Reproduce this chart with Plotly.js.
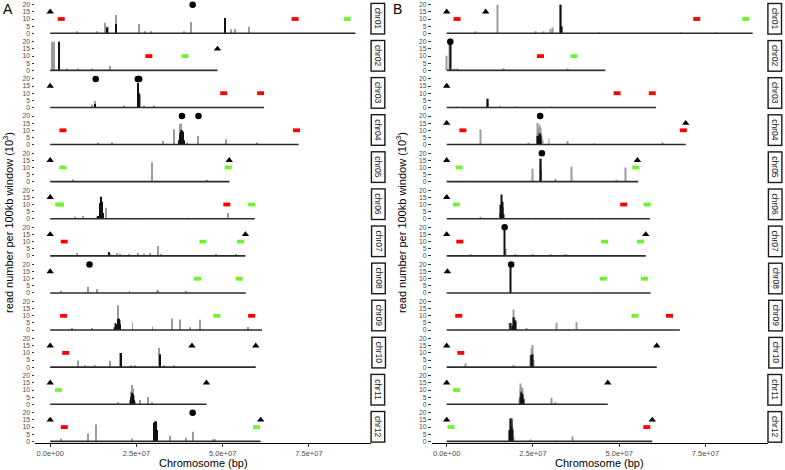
<!DOCTYPE html>
<html><head><meta charset="utf-8">
<script src="https://cdn.plot.ly/plotly-3.0.1.min.js"></script>
<style>html,body{margin:0;padding:0;background:#fff}</style>
</head><body><div id="chart" style="width:785px;height:470px"></div>
<script>
// ---------------- DATA (positions in Mb, read numbers in 10^3) ----------------
const chroms = ['chr01','chr02','chr03','chr04','chr05','chr06','chr07','chr08','chr09','chr10','chr11','chr12'];
const xTickVals = [0, 2.5e7, 5e7, 7.5e7];
const xTickText = ['0.0e+00','2.5e+07','5.0e+07','7.5e+07'];
const yTickVals = [0, 5, 10, 15, 20];

// Panel A
const lenA = [88.5, 48.5, 62.0, 72.0, 52.0, 59.3, 56.6, 56.7, 61.4, 59.6, 45.3, 61.0];
const triA = [[0],[48.5],[0],[],[0,51.9],[0],[0,56.6],[0],[],[0,41.1,59.6],[0,45.3],[0,61.0]];
const circA = [[41.3],[],[13.2,25.4,25.8],[38.2,43.0],[],[],[],[11.4],[],[],[],[41.3]];
const redA = [[3.2,71.0],[28.6],[50.3,61.0],[3.7,71.4],[],[51.2],[4.05],[],[3.9,58.4],[4.5],[],[4.1]];
const greenA = [[86.1],[39.1],[],[],[3.7,51.6],[2.5,3.0,58.4],[44.3,55.2],[42.7,54.8],[48.3],[],[2.4],[59.8]];
const greyPosA = [
  [7.9,13.7,16.0,16.4,16.8,19.1,25.8,27.6,29.4,38.9,41.0,50.7,52.5,53.6,57.7],
  [0.7,1.1,2.5,5.0,8.2,12.2,17.4],
  [12.2,12.9,25.5,26.0,21.5,27.2,30.0],
  [14.0,18.0,32.8,36.0,37.6,37.8,38.0,38.2,38.4,38.6,39.7,42.9,50.9,60.0],
  [6.7,29.6,31.0,45.5],
  [7.2,9.4,13.5,16.2,51.6,25.0,40.0],
  [7.7,17.1,17.4,19.3,20.3,23.0,25.4,27.2,28.9,31.4,32.2,48.1,54.0],
  [3.0,11.1,13.6,23.0,30.9,31.3,39.5],
  [6.4,12.3,18.6,18.9,19.3,19.7,20.0,20.3,23.9,29.7,35.4,37.7,40.7,43.5,57.3,57.5],
  [6.3,8.2,10.0,12.9,17.5,20.4,23.5,24.5,31.6,33.0,36.0],
  [19.8,26.0,28.4,29.6,23.2,23.5,23.7,23.9,24.1,24.3,24.5],
  [3.1,11.1,13.4,23.7,34.8,39.3,41.3,47.2,47.7]
];
const greyHA = [
  [1,1,7.4,4.6,4.6,12.8,6.5,1.2,1,1,7.9,10.7,2.8,3,4.6],
  [20,20,20,1,1,1,3.1],
  [2,4.5,17.2,9,1,1,0.8],
  [1,1,2.5,10.8,14.3,12,14.8,10,9,6,1.5,6,3.7,1],
  [1.5,13.5,0.5,0.8],
  [1.5,2,1.5,7.7,4,0.6,0.6],
  [2,2.5,1.5,2,1.5,1,2,1.5,2,7,1,1.5,0.8],
  [1.5,4.4,2.8,1,1,2,1],
  [1,1,2,5,4,17.4,8,7,5.3,2.5,8.1,7.4,2,7.2,2,2],
  [0.5,4.7,1,1,4.5,10,1,1,13.5,0.8,0.8],
  [1.5,3,5.1,1,3,9,13.5,11,10,6,2],
  [2,5.6,11.9,2,4,2.5,6.7,1.5,1.5]
];
const blackPosA = [
  [16.4,19.1,50.7],[2.5],[12.9,25.5,25.6],[37.4,37.6,37.8,38.0,38.2,38.4,38.6,38.8],[],
  [14.0,14.3,14.5,14.7,14.9,15.1,15.3],[17.1],[],[18.6,18.9,19.3,19.7,20.0,20.3],[20.4,31.8],
  [23.3,23.5,23.7,23.9,24.1,24.3],[30.1,30.3,30.5,30.7,30.9,31.1]
];
const blackHA = [
  [4,6.5,10.7],[20],[2.5,17.2,10],[3,8,10,9,10,9,7,3],[],
  [2,6,11,15.5,12,7,4],[2.5],[],[2,5,4,8,8,4],[10,9],
  [2,5,8,7,6,3],[13,14,12,14,8,3]
];

// Panel B
const lenB = [88.7, 46.0, 60.7, 69.3, 55.5, 58.9, 57.7, 59.1, 67.6, 60.9, 46.7, 59.6];
const triB = [[0,11.3],[],[0],[0,69.3],[0,55.3],[0],[0,57.7],[0.2],[],[0,60.9],[0,46.7],[0,59.6]];
const circB = [[],[1.05],[],[27.1],[27.6],[],[16.8],[18.7],[],[],[],[]];
const redB = [[3.0,72.5],[27.2],[49.4,59.6],[4.7,68.6],[],[51.3],[3.8],[],[3.5,64.6],[4.1],[],[58.0]];
const greenB = [[86.7],[36.9],[],[],[3.6,54.8],[2.8,58.1],[45.8,56.2],[45.4,57.3],[54.6],[],[2.9],[1.25]];
const greyPosB = [
  [8.5,14.7,25.9,28.0,30.2,30.7,33.0,33.3,44.0,68.0,78.0],
  [0.1,0.96,2.4,3.4,16.7,35.2],
  [3.0,11.8,12.0,15.5,20.0,30.0],
  [9.9,23.7,26.3,26.5,26.7,26.9,27.1,27.3,27.5,27.7,29.7,35.0,43.0,62.7],
  [6.2,24.8,27.1,27.3,31.7,36.2,49.2,52.0],
  [9.9,23.7,33.4,44.1],
  [7.0,17.1,20.0,25.0,30.0,34.4],
  [43.0],
  [4.0,18.4,19.0,19.4,19.7,20.0,23.3,32.0,35.5,37.7,41.6,50.4],
  [5.6,19.4,24.4,24.6,24.9,25.1],
  [21.1,21.3,21.5,21.7,21.9,22.1,22.3,30.5,31.6],
  [18.3,18.5,18.7,18.9,19.1,19.3,24.2,32.0,36.5]
];
const greyHB = [
  [1,20,1.5,1,3,4,20,5,0.5,0.5,0.5],
  [10.2,20,1,1,1.5,1],
  [0.5,6.1,3,1.5,0.5,0.5],
  [10.6,1,15.2,8,12,14,12,9,6,3,4,2.5,0.5,1],
  [0.5,9,16,12,2,10.5,1,10],
  [1,0.5,0.5,0.5],
  [1,5,0.8,0.8,0.8,1],
  [0.5],
  [0.5,4.9,3,14.4,9,7,1.5,5.2,0.5,5.4,0.5,0.5],
  [2.5,1.5,8.5,13,15.5,5],
  [4,10,14.5,12,11,7,3,4.6,1],
  [8,16,14,16,10,3,1,0.5,3.5]
];
const blackPosB = [
  [33.0,33.3],[0.96],[11.8],[26.3,26.5,26.7,26.9,27.1,27.3],[27.1,27.3],
  [15.5,15.7,15.9,16.1,16.3,16.5],[16.8],[18.6],[18.4,19.0,19.4,19.7,20.0],[24.4,24.6,24.9],
  [21.3,21.5,21.7,21.9,22.1],[18.3,18.5,18.7,18.9,19.1]
];
const blackHB = [
  [20,5],[20],[6.1],[6,5,6,8,7,4],[16,8],
  [4,10,17,12,8,3],[18],[19],[4.9,3,9,7,6],[8.5,8,9],
  [5,9,8,7,4],[8,16,10,16,8]
];

// ---------------- LAYOUT / DRAWING ----------------
const W = 785, H = 470;
const MB = 1e6;
const FONT = 'Liberation Sans, Arial, Helvetica, sans-serif';
const panelX = [[35, 371], [431.5, 767.5]];
const stripX = [378.3, 775.2];
const rowTop = i => 3.3 + 37.1 * i;
const rowBot = i => 34.7 + 37.1 * i;
const XR = [-4.4e6, 9.3e7];
const TRI_Y = 15, SQ_Y = 10, CIRC_Y = 20;
const RED = '#ff0000', GREEN = '#6cf52a';

const panels = [
  {len: lenA, tri: triA, circ: circA, red: redA, green: greenA, gp: greyPosA, gh: greyHA, bp: blackPosA, bh: blackHA},
  {len: lenB, tri: triB, circ: circB, red: redB, green: greenB, gp: greyPosB, gh: greyHB, bp: blackPosB, bh: blackHB}
];

const traces = [];
const layout = {
  width: W, height: H, margin: {l: 0, r: 0, t: 0, b: 0},
  paper_bgcolor: '#fff', plot_bgcolor: '#fff', showlegend: false, hovermode: false,
  font: {family: FONT, color: '#000'},
  annotations: []
};
const mb = a => a.map(v => v * MB);
const fill = (a, v) => a.map(() => v);

panels.forEach((P, p) => {
  chroms.forEach((c, i) => {
    const k = p * 12 + i + 1;
    const xa = 'x' + (k === 1 ? '' : k), ya = 'y' + (k === 1 ? '' : k);
    const bottom = i === 11;
    layout['xaxis' + (k === 1 ? '' : k)] = {
      domain: [panelX[p][0] / W, panelX[p][1] / W], anchor: ya, range: XR,
      showgrid: false, zeroline: false, showline: bottom, linecolor: '#000', linewidth: 1,
      ticks: bottom ? 'outside' : '', ticklen: 3, tickcolor: '#333', tickwidth: 1,
      showticklabels: bottom, tickvals: xTickVals, ticktext: xTickText,
      tickfont: {size: 7.5, color: '#4d4d4d', family: FONT}, fixedrange: true
    };
    layout['yaxis' + (k === 1 ? '' : k)] = {
      domain: [1 - rowBot(i) / H, 1 - rowTop(i) / H], anchor: xa, range: [-1, 21],
      showgrid: false, zeroline: false, showline: false,
      ticks: 'outside', ticklen: 2.5, tickcolor: '#333', tickwidth: 1,
      tickvals: yTickVals, tickfont: {size: 6.8, color: '#4d4d4d', family: FONT}, fixedrange: true
    };
    // chromosome baseline
    traces.push({type: 'scatter', mode: 'lines', x: [0, P.len[i] * MB], y: [0, 0], xaxis: xa, yaxis: ya,
      line: {color: '#2b2b2b', width: 1.6}});
    // read-number windows
    traces.push({type: 'bar', x: mb(P.gp[i]), y: P.gh[i], width: 2.8e5, xaxis: xa, yaxis: ya,
      marker: {color: '#9b9b9b', line: {width: 0}}});
    traces.push({type: 'bar', x: mb(P.bp[i]), y: P.bh[i], width: 2.8e5, xaxis: xa, yaxis: ya,
      marker: {color: '#111', line: {width: 0}}});
    // markers
    traces.push({type: 'scatter', mode: 'markers', x: mb(P.tri[i]), y: fill(P.tri[i], TRI_Y), xaxis: xa, yaxis: ya,
      marker: {symbol: 'triangle-up', size: 6.5, color: '#000'}, cliponaxis: false});
    traces.push({type: 'scatter', mode: 'markers', x: mb(P.circ[i]), y: fill(P.circ[i], CIRC_Y), xaxis: xa, yaxis: ya,
      marker: {symbol: 'circle', size: 6.5, color: '#000'}, cliponaxis: false});
    traces.push({type: 'scatter', mode: 'markers', x: mb(P.red[i]), y: fill(P.red[i], SQ_Y), xaxis: xa, yaxis: ya,
      marker: {symbol: 'line-ew', size: 5, color: RED, line: {width: 3.8, color: RED}}, cliponaxis: false});
    traces.push({type: 'scatter', mode: 'markers', x: mb(P.green[i]), y: fill(P.green[i], SQ_Y), xaxis: xa, yaxis: ya,
      marker: {symbol: 'line-ew', size: 5, color: GREEN, line: {width: 3.8, color: GREEN}}, cliponaxis: false});
    // strip label
    layout.annotations.push({
      xref: 'paper', yref: 'paper', x: stripX[p] / W, y: 1 - (rowTop(i) + rowBot(i)) / 2 / H,
      xanchor: 'center', yanchor: 'middle', text: c, textangle: 90, showarrow: false,
      width: 28, height: 11, bgcolor: '#fff', bordercolor: '#1a1a1a', borderwidth: 1.4, borderpad: 0.5,
      font: {size: 8.5, color: '#1a1a1a', family: FONT}
    });
  });
  // panel tag, y title, x title
  layout.annotations.push({xref: 'paper', yref: 'paper', x: (p === 0 ? 8 : 397) / W, y: 1 - 9 / H,
    xanchor: 'center', yanchor: 'middle', text: p === 0 ? 'A' : 'B', showarrow: false,
    font: {size: 14, color: '#000', family: FONT}});
  layout.annotations.push({xref: 'paper', yref: 'paper', x: (p === 0 ? 8 : 401) / W, y: 1 - 223 / H,
    xanchor: 'center', yanchor: 'middle', text: 'read number per 100kb window (10<sup>3</sup>)', textangle: -90,
    showarrow: false, font: {size: 11, color: '#000', family: FONT}});
  layout.annotations.push({xref: 'paper', yref: 'paper', x: (panelX[p][0] + panelX[p][1]) / 2 / W, y: 1 - 463 / H,
    xanchor: 'center', yanchor: 'middle', text: 'Chromosome (bp)', showarrow: false,
    font: {size: 11, color: '#000', family: FONT}});
});

Plotly.newPlot('chart', traces, layout, {displayModeBar: false, responsive: false});
</script>
</body></html>
